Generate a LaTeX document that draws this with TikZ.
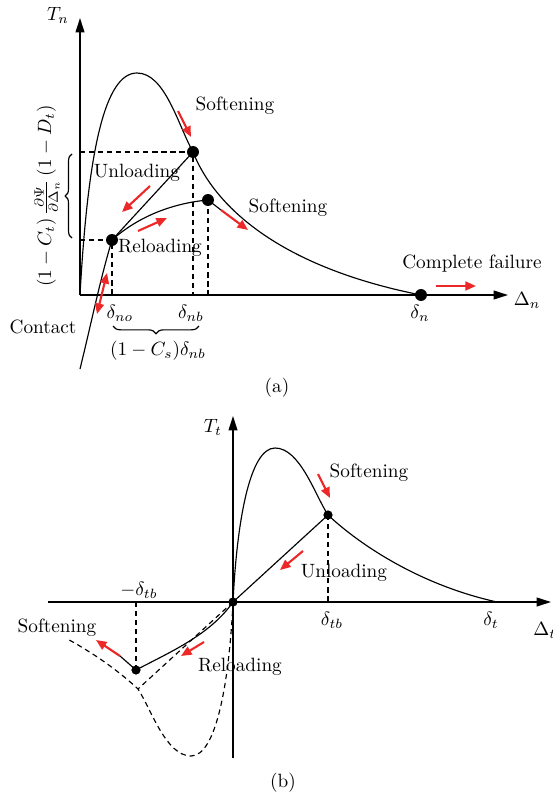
\documentclass[tikz,border=0pt]{standalone}
\usepackage{amsmath}
\usepackage{amssymb}
\usepackage{tikz}
\usetikzlibrary{arrows.meta,decorations.pathreplacing}
\definecolor{arrred}{RGB}{236,40,40}

\begin{document}
\begin{tikzpicture}[
    x=0.52pt, y=-0.52pt,
    axis/.style={line width=0.75pt, -{Triangle[length=7.5pt,width=4.6pt]}},
    curve/.style={line width=0.6pt},
    guide/.style={line width=0.6pt, dash pattern=on 2.7pt off 2pt},
    dot/.style={circle, fill=black, inner sep=0pt, minimum size=#1},
    dot/.default=6.2pt,
    move/.style={line width=1.1pt, draw=arrred, -{Triangle[length=5.5pt,width=4.6pt]}},
    twomove/.style={line width=1.1pt, draw=arrred, {Triangle[length=5.5pt,width=4.6pt]}-{Triangle[length=5.5pt,width=4.6pt]}},
    brace/.style={decorate, decoration={brace, amplitude=#1}, line width=0.6pt},
    lbl/.style={inner sep=1pt}
]
\useasboundingbox (0,0) rectangle (552,799);

% ---------------- (a) normal direction ----------------
\coordinate (oa) at (80,295);
\coordinate (tna) at (80,18);
\coordinate (dna) at (508,295);
\coordinate (pka) at (137,73);
\coordinate (pno) at (112,240);
\coordinate (pnb) at (193,152);
\coordinate (prl) at (208,200);
\coordinate (pjn) at (221,210);
\coordinate (pfl) at (421,295);
\coordinate (pct) at (80,369);

\draw[axis] (oa) -- (tna);
\draw[axis] (oa) -- (dna);

% envelope
\draw[curve] (oa) .. controls (88,150) and (105,73) .. (pka)
    .. controls (165,73) and (178,125) .. (pnb)
    .. controls (212,200) and (270,265) .. (pfl);
% contact, unloading, reloading
\draw[curve] (pct) .. controls (92,320) and (100,280) .. (pno);
\draw[curve] (pno) -- (pnb);
\draw[curve] (pno) .. controls (140,215) and (175,203) .. (prl);
\draw[curve] (prl) -- (pjn);

% guides
\draw[guide] (80,152) -- (pnb) -- (193,295);
\draw[guide] (80,240) -- (pno) -- (112,295);
\draw[guide] (prl) -- (208,295);

\node[dot] (dno) at (pno) {};
\node[dot] (dnb) at (pnb) {};
\node[dot] (drl) at (prl) {};
\node[dot] (dfl) at (pfl) {};

% braces
\draw[brace=3.6pt] (72,238) -- (72,154);
\draw[brace=4pt] (199,326) -- (113,326);

% labels
\node[lbl] (tn) at (58,15) {$T_n$};
\node[lbl] (dn) at (527,300) {$\Delta_n$};
\node[lbl] (lno) at (120,313) {$\delta_{no}$};
\node[lbl] (lnb) at (191,313) {$\delta_{nb}$};
\node[lbl] (ln) at (420,313) {$\delta_n$};
\node[lbl] (lcs) at (158,351) {$(1-C_s)\delta_{nb}$};
\node[lbl, rotate=90] (lct) at (47,196) {$(1-C_t)\,\frac{\partial\Psi}{\partial\Delta_n}\,(1-D_t)$};
\node[lbl] (sa1) at (235,106) {Softening};
\node[lbl] (ua) at (137,173) {Unloading};
\node[lbl] (ra) at (160,248) {Reloading};
\node[lbl] (sa2) at (288,208) {Softening};
\node[lbl] (cf) at (472,264) {Complete failure};
\node[lbl] (ca) at (43,327) {Contact};
\node[lbl] (capa) at (277,388) {(a)};

% red arrows
\coordinate (ma1) at (178,111); \coordinate (ma2) at (191,137);
\coordinate (mu1) at (150,186); \coordinate (mu2) at (122,212);
\coordinate (mr1) at (138,231); \coordinate (mr2) at (167,218);
\coordinate (ms1) at (221,210); \coordinate (ms2) at (248,230);
\coordinate (mc1) at (107,273); \coordinate (mc2) at (97,314);
\coordinate (mf1) at (436,286); \coordinate (mf2) at (476,286);
\draw[move] (ma1) -- (ma2);
\draw[move] (mu1) -- (mu2);
\draw[move] (mr1) -- (mr2);
\draw[move] (ms1) -- (ms2);
\draw[twomove] (mc1) -- (mc2);
\draw[move] (mf1) -- (mf2);

% ---------------- (b) tangential direction ----------------
\coordinate (ob) at (233,602);
\coordinate (tlb) at (48,602);
\coordinate (trb) at (551,602);
\coordinate (tbb) at (233,758);
\coordinate (ttb) at (233,416);
\coordinate (ptb) at (328,515);
\coordinate (pt) at (497,602);
\coordinate (pmb) at (136,670);
\coordinate (pmx) at (120,656);

\draw[line width=0.75pt] (tlb) -- (ob);
\draw[axis] (ob) -- (trb);
\draw[line width=0.75pt] (tbb) -- (ob);
\draw[axis] (ob) -- (ttb);

% envelope and its mirror
\draw[curve] (ob) .. controls (237,520) and (250,448) .. (275,448)
    .. controls (300,448) and (315,495) .. (ptb)
    .. controls (360,545) and (420,585) .. (pt);
\begin{scope}
  \clip (69,560) rectangle (240,780);
  \draw[guide] (ob) .. controls (229,684) and (216,756) .. (191,756)
      .. controls (166,756) and (151,709) .. (138,689)
      .. controls (106,659) and (46,619) .. (-31,602);
\end{scope}
\draw[guide] (ob) -- (138,689);

% unloading / reloading
\draw[curve] (ptb) -- (ob);
\draw[curve] (ob) .. controls (210,635) and (170,652) .. (pmb);
\draw[curve] (pmb) -- (pmx);
\draw[guide] (ptb) -- (328,602);
\draw[guide] (pmb) -- (136,602);

\node[dot=4.8pt] (dob) at (ob) {};
\node[dot=4.8pt] (dtb) at (ptb) {};
\node[dot=4.8pt] (dmb) at (pmb) {};

% labels
\node[lbl] (tt) at (213,427) {$T_t$};
\node[lbl, anchor=west] (dt) at (531,630) {$\Delta_t$};
\node[lbl] (ltb) at (332,620) {$\delta_{tb}$};
\node[lbl] (lt) at (491,620) {$\delta_t$};
\node[lbl] (lmtb) at (139,590) {$-\delta_{tb}$};
\node[lbl] (sb1) at (369,473) {Softening};
\node[lbl] (ub) at (344,573) {Unloading};
\node[lbl] (rb) at (240,667) {Reloading};
\node[lbl] (sb2) at (57,628) {Softening};
\node[lbl] (capb) at (283,783) {(b)};

% red arrows
\coordinate (mb1) at (318,474); \coordinate (mb2) at (330,498);
\coordinate (mb3) at (303,551); \coordinate (mb4) at (280,570);
\coordinate (mb5) at (204,642); \coordinate (mb6) at (181,656);
\draw[move] (mb1) -- (mb2);
\draw[move] (mb3) -- (mb4);
\draw[move] (mb5) -- (mb6);
\draw[move] (pmx) -- (96,640);

\end{tikzpicture}
\end{document}
